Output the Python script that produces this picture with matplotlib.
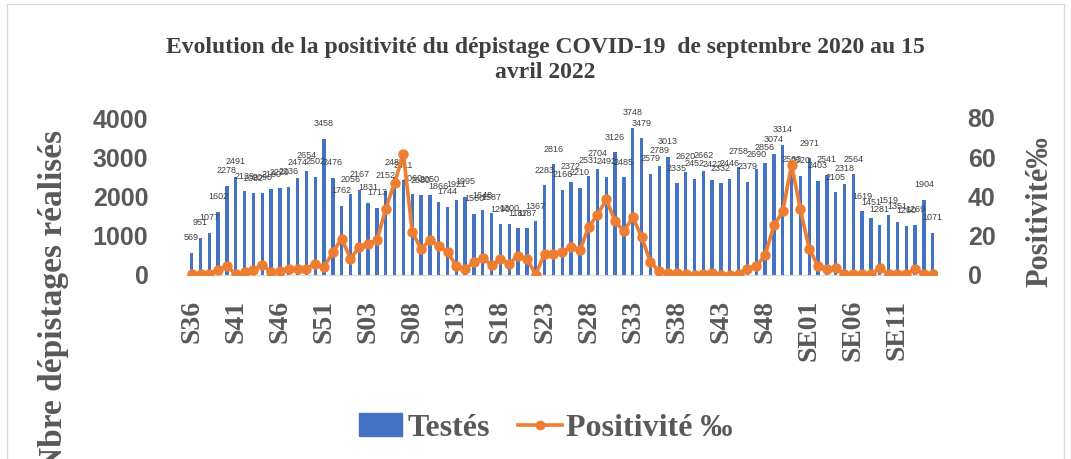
import matplotlib
matplotlib.use('Agg')
import matplotlib.pyplot as plt
from matplotlib.patches import Patch, Rectangle
from matplotlib.lines import Line2D

weeks = ["S36", "S37", "S38", "S39", "S40", "S41", "S42", "S43", "S44", "S45",
         "S46", "S47", "S48", "S49", "S50", "S51", "S52", "S53", "S01", "S02",
         "S03", "S04", "S05", "S06", "S07", "S08", "S09", "S10", "S11", "S12",
         "S13", "S14", "S15", "S16", "S17", "S18", "S19", "S20", "S21", "S22",
         "S23", "S24", "S25", "S26", "S27", "S28", "S29", "S30", "S31", "S32",
         "S33", "S34", "S35", "S36", "S37", "S38", "S39", "S40", "S41", "S42",
         "S43", "S44", "S45", "S46", "S47", "S48", "S49", "S50", "S51", "S52",
         "SE01", "SE02", "SE03", "SE04", "SE05", "SE06", "SE07", "SE08", "SE09", "SE10",
         "SE11", "SE12", "SE13", "SE14", "SE15"]

tested = [569, 951, 1077, 1602, 2278, 2491, 2129, 2082, 2090, 2180,
          2229, 2236, 2474, 2654, 2502, 3458, 2476, 1762, 2056, 2167,
          1831, 1713, 2152, 2485, 2411, 2060, 2030, 2050, 1866, 1744,
          1921, 1995, 1560, 1648, 1587, 1290, 1300, 1187, 1187, 1367,
          2283, 2816, 2166, 2372, 2210, 2531, 2704, 2492, 3126, 2485,
          3748, 3479, 2579, 2789, 3013, 2335, 2620, 2452, 2662, 2422,
          2332, 2446, 2758, 2379, 2690, 2856, 3074, 3314, 2563, 2520,
          2971, 2403, 2541, 2105, 2318, 2564, 1619, 1451, 1281, 1519,
          1351, 1260, 1269, 1904, 1071]

positivity = [0.5, 0.3, 0.5, 2.4, 4.6, 0.3, 1.5, 2.4, 5.3, 1.5,
              1.9, 2.9, 3.2, 3.2, 5.8, 4.0, 11.7, 18.5, 8.3, 14.3,
              16.0, 17.7, 33.8, 47.0, 61.8, 21.9, 13.4, 17.7, 14.8, 11.7,
              4.6, 2.9, 6.6, 8.8, 4.9, 8.3, 5.8, 9.7, 8.3, 0.2,
              10.9, 10.9, 11.7, 14.3, 12.6, 24.4, 30.7, 38.5, 27.3, 22.2,
              29.5, 19.4, 6.6, 1.9, 1.2, 1.2, 0.7, 0.2, 0.7, 1.2,
              0.2, 0.2, 0.7, 3.2, 4.6, 10.0, 25.3, 32.4, 56.2, 33.4,
              13.4, 4.6, 2.9, 3.6, 0.4, 0.4, 0.4, 0.4, 3.6, 0.4,
              0.7, 0.7, 2.9, 0.4, 0.6]

left_ticks = [0, 1000, 2000, 3000, 4000]
right_ticks = [0, 20, 40, 60, 80]

title_lines = ['Evolution de la positivité du dépistage COVID-19  de septembre 2020 au 15',
               'avril 2022']

BLUE = '#4472C4'
ORANGE = '#ED7D31'
GRAY = '#595959'
SERIF = 'Liberation Serif'

fig = plt.figure(figsize=(10.71, 4.59), dpi=100)
fig.patches.append(Rectangle((7 / 1071, -0.05), (1064 - 7) / 1071, (459 - 4) / 459 + 0.05,
                             transform=fig.transFigure, fill=False,
                             edgecolor='#D9D9D9', linewidth=1.0))

ax = fig.add_axes([187.3 / 1071, 184 / 459, 749.8 / 1071, 157 / 459])
x = list(range(len(tested)))
ax.bar(x, tested, width=0.38, color=BLUE, zorder=2)
for xi, v in zip(x, tested):
    ax.annotate(str(v), (xi, v), xytext=(0, 11), textcoords='offset points',
                ha='center', va='center', fontsize=6.5, color='#404040',
                family='Liberation Sans', zorder=3)
ax.set_xlim(-0.5, len(tested) - 0.5)
ax.set_ylim(0, 4000)
ax.set_yticks(left_ticks)
ax.set_yticklabels([str(t) for t in left_ticks], fontsize=18, fontweight='bold',
                   color=GRAY, family='Liberation Sans')
ax.tick_params(axis='y', length=0, pad=28)
ax.set_xticks(x[::5])
ax.set_xticklabels(weeks[::5], rotation=90, fontsize=20, fontweight='bold',
                   color=GRAY, family=SERIF)
ax.tick_params(axis='x', length=0, pad=18)
for s in ['top', 'left', 'right']:
    ax.spines[s].set_visible(False)
ax.spines['bottom'].set_color('#D9D9D9')

ax2 = ax.twinx()
ax2.plot(x, positivity, color=ORANGE, linewidth=2.6, marker='o', markersize=6.5, zorder=4)
ax2.set_ylim(0, 80)
ax2.set_yticks(right_ticks)
ax2.set_yticklabels([str(t) for t in right_ticks], fontsize=18, fontweight='bold',
                    color=GRAY, family='Liberation Sans')
ax2.tick_params(axis='y', length=0, pad=22)
for s in ax2.spines.values():
    s.set_visible(False)

fig.text(54 / 1071, 1 - 300 / 459, 'Nbre dépistages réalisés', rotation=90,
         ha='center', va='center', fontsize=24, fontweight='bold', color=GRAY, family=SERIF)
fig.text(1040 / 1071, 1 - 212 / 459, 'Positivité‰', rotation=90,
         ha='center', va='center', fontsize=22, fontweight='bold', color=GRAY, family=SERIF)

for yy, line in zip([47, 72], title_lines):
    fig.text(545 / 1071, 1 - yy / 459, line, ha='center', va='center', fontsize=17,
             fontweight='bold', color='#404040', family=SERIF)

handles = [Patch(facecolor=BLUE, edgecolor=BLUE),
           Line2D([0], [0], color=ORANGE, linewidth=2.6, marker='o', markersize=6)]
fig.legend(handles, ['Testés', 'Positivité ‰'], loc='center', bbox_to_anchor=(546 / 1071, 31 / 459),
           ncol=2, frameon=False, handlelength=1.35, columnspacing=0.9, handletextpad=0.15,
           prop={'family': SERIF, 'weight': 'bold', 'size': 23}, labelcolor=GRAY)

fig.savefig('out.png', dpi=100)
